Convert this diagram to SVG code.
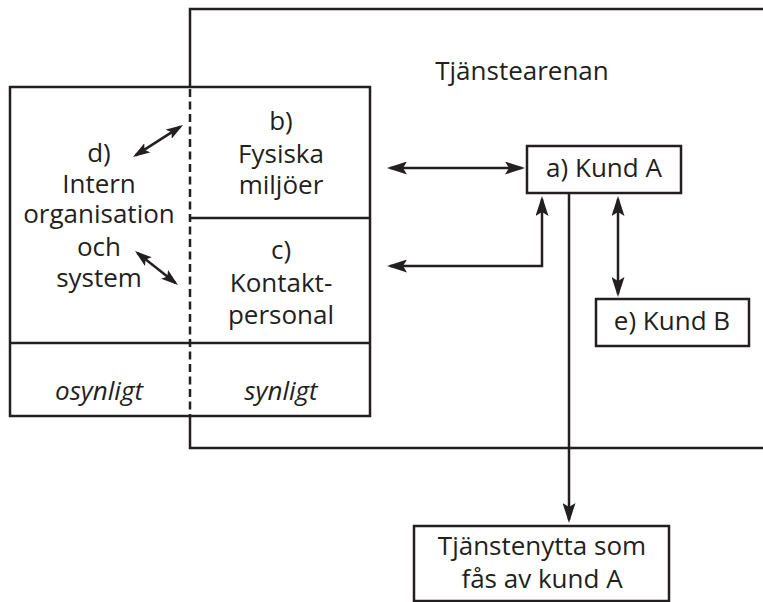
<svg xmlns="http://www.w3.org/2000/svg" width="763" height="602" viewBox="0 0 763 602">
  <style>
    .ln { fill: none; stroke: #231f20; stroke-width: 2.5; }
    .dash { fill: none; stroke: #231f20; stroke-width: 2.5; stroke-dasharray: 8 4.5; }
    .box { fill: #ffffff; stroke: #231f20; stroke-width: 2.5; }
    .t { font-family: "Open Sans", "DejaVu Sans", sans-serif; font-size: 26px; fill: #231f20; text-anchor: middle; }
    .it { font-style: italic; }
  </style>
  <defs>
    <marker id="ah" viewBox="0 0 20 13" refX="17" refY="6.5" markerWidth="20" markerHeight="13" markerUnits="userSpaceOnUse" orient="auto-start-reverse">
      <path d="M0,0 L20,6.5 L0,13 L4,6.5 z" fill="#231f20"/>
    </marker>
    <marker id="ahs" viewBox="0 0 17 11" refX="14" refY="5.5" markerWidth="17" markerHeight="11" markerUnits="userSpaceOnUse" orient="auto-start-reverse">
      <path d="M0,0 L17,5.5 L0,11 L3.5,5.5 z" fill="#231f20"/>
    </marker>
  </defs>

  <g id="tjanstearenan">
    <path class="ln" d="M190,87 V9 H765"/>
    <path class="ln" d="M190,416 V448 H765"/>
    <text class="t" x="522" y="80">Tjänstearenan</text>
  </g>

  <g id="organisation-box">
    <rect class="ln" x="10" y="87" width="360" height="329"/>
    <line class="ln" x1="10" y1="343" x2="370" y2="343"/>
    <line class="ln" x1="190" y1="218" x2="370" y2="218"/>
    <line class="dash" x1="190" y1="89" x2="190" y2="416"/>
  </g>

  <g id="node-b">
    <text class="t" x="281" y="130">b)</text>
    <text class="t" x="281" y="163">Fysiska</text>
    <text class="t" x="281" y="194">miljöer</text>
  </g>

  <g id="node-c">
    <text class="t" x="281" y="259">c)</text>
    <text class="t" x="281" y="292">Kontakt-</text>
    <text class="t" x="281" y="324">personal</text>
  </g>

  <g id="node-d">
    <text class="t" x="99" y="162">d)</text>
    <text class="t" x="99" y="193">Intern</text>
    <text class="t" x="99" y="223">organisation</text>
    <text class="t" x="99" y="256">och</text>
    <text class="t" x="99" y="287">system</text>
  </g>

  <g id="labels-visibility">
    <text class="t it" x="99" y="400">osynligt</text>
    <text class="t it" x="281" y="400">synligt</text>
  </g>

  <g id="node-kund-a">
    <rect class="box" x="527" y="146" width="154" height="47"/>
    <text class="t" x="604" y="177">a) Kund A</text>
  </g>

  <g id="node-kund-b">
    <rect class="box" x="596" y="299" width="153" height="47"/>
    <text class="t" x="672" y="330">e) Kund B</text>
  </g>

  <g id="node-tjanstenytta">
    <rect class="box" x="414" y="526" width="255" height="75"/>
    <text class="t" x="542" y="555">Tjänstenytta som</text>
    <text class="t" x="542" y="588">fås av kund A</text>
  </g>

  <g id="connectors">
    <line class="ln" x1="390" y1="168" x2="522" y2="168" marker-start="url(#ah)" marker-end="url(#ah)"/>
    <path class="ln" d="M390,266 H542 V199" marker-start="url(#ah)" marker-end="url(#ah)"/>
    <line class="ln" x1="569" y1="193" x2="569" y2="520" marker-end="url(#ah)"/>
    <line class="ln" x1="618" y1="199" x2="618" y2="294" marker-start="url(#ah)" marker-end="url(#ah)"/>
    <line class="ln" x1="135.5" y1="155.4" x2="180.5" y2="126.6" marker-start="url(#ahs)" marker-end="url(#ahs)"/>
    <line class="ln" x1="137.4" y1="252.9" x2="175.6" y2="283.1" marker-start="url(#ahs)" marker-end="url(#ahs)"/>
  </g>
</svg>
